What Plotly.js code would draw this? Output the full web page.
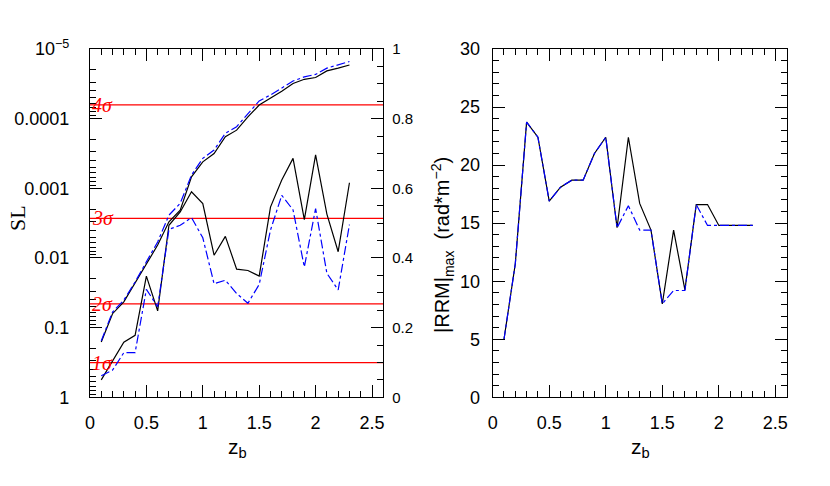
<!DOCTYPE html>
<html lang="en">
<head>
    <meta charset="UTF-8">
    <title>SL and |RRM|max vs z_b</title>
    <script src="https://cdn.plot.ly/plotly-3.0.1.min.js"></script>
    <style>
        body { margin: 0; background: #fff; }
        #chart { width: 830px; height: 486px; }
    </style>
</head>
<body>
    <div id="chart"></div>
    <script>
        // redshift bins
        const zb = [0.1, 0.2, 0.3, 0.4, 0.5, 0.6, 0.7, 0.8, 0.9, 1.0, 1.1, 1.2,
                    1.3, 1.4, 1.5, 1.6, 1.7, 1.8, 1.9, 2.0, 2.1, 2.2, 2.3];

        // significance level (left, log axis), given as -log10(SL)
        const slBlackDec = [0.25, 0.51, 0.79, 0.89, 1.74, 1.24, 2.47, 2.66, 2.95, 2.78, 2.04, 2.31,
                            1.84, 1.82, 1.74, 2.73, 3.12, 3.43, 2.55, 3.48, 2.63, 2.09, 3.08];
        const slBlueDec = [0.31, 0.39, 0.64, 0.64, 1.55, 1.30, 2.41, 2.47, 2.58, 2.29, 1.63, 1.68,
                           1.49, 1.35, 1.62, 2.40, 2.90, 2.69, 1.87, 2.71, 1.78, 1.54, 2.48];

        // cumulative curves (right axis, 0..1)
        const cumBlack = [0.159, 0.240, 0.274, 0.327, 0.384, 0.437, 0.504, 0.537, 0.633, 0.676, 0.700, 0.748,
                          0.767, 0.805, 0.839, 0.858, 0.879, 0.901, 0.913, 0.918, 0.937, 0.945, 0.954];
        const cumBlue = [0.162, 0.245, 0.279, 0.331, 0.389, 0.446, 0.523, 0.557, 0.638, 0.686, 0.710, 0.758,
                         0.777, 0.815, 0.851, 0.868, 0.889, 0.908, 0.920, 0.927, 0.945, 0.954, 0.964];

        // |RRM|max (rad m^-2)
        const rrmBlack = [5.0, 11.5, 23.7, 22.4, 16.9, 18.1, 18.7, 18.7, 21.0, 22.4, 14.6, 22.4,
                          16.7, 14.4, 8.05, 14.4, 9.25, 16.6, 16.6, 14.8, 14.8, 14.8, 14.8];
        const rrmBlue = [5.0, 11.5, 23.7, 22.4, 16.9, 18.1, 18.7, 18.7, 21.0, 22.4, 14.6, 16.5,
                         14.4, 14.4, 8.05, 9.2, 9.2, 16.6, 14.8, 14.8, 14.8, 14.8, 14.8];

        // sigma levels
        const sigmaSL = [0.3173, 0.0455, 0.0027, 0.0000633];
        const sigmaLabels = ["1σ", "2σ", "3σ", "4σ"];

        const xRange = [0, 2.6];
        const slTickVals = [1, 0.1, 0.01, 0.001, 0.0001, 0.00001];
        const slTickText = ["1", "0.1", "0.01", "0.001", "0.0001", "10<sup>−5</sup>"];

        const slBlack = slBlackDec.map(d => Math.pow(10, -d));
        const slBlue = slBlueDec.map(d => Math.pow(10, -d));

        const minorLog = [];
        for (let e = 0; e < 5; e++) {
            for (let k = 2; k <= 9; k++) minorLog.push(k * Math.pow(10, -e - 1));
        }

        const traces = [];
        sigmaSL.forEach(s => {
            traces.push({
                x: xRange, y: [s, s], xaxis: "x", yaxis: "y",
                mode: "lines", line: { color: "#ff0000", width: 1.3 },
                hoverinfo: "skip"
            });
        });
        traces.push(
            { x: zb, y: cumBlack, xaxis: "x", yaxis: "y2", mode: "lines", line: { color: "#000", width: 1.2 } },
            { x: zb, y: cumBlue, xaxis: "x", yaxis: "y2", mode: "lines", line: { color: "#0000ff", width: 1.2, dash: "dashdot" } },
            { x: zb, y: slBlack, xaxis: "x", yaxis: "y", mode: "lines", line: { color: "#000", width: 1.2 } },
            { x: zb, y: slBlue, xaxis: "x", yaxis: "y", mode: "lines", line: { color: "#0000ff", width: 1.2, dash: "dashdot" } },
            { x: zb, y: rrmBlack, xaxis: "x2", yaxis: "y3", mode: "lines", line: { color: "#000", width: 1.2 } },
            { x: zb, y: rrmBlue, xaxis: "x2", yaxis: "y3", mode: "lines", line: { color: "#0000ff", width: 1.2, dash: "dashdot" } }
        );

        const tickFont = { family: "Liberation Sans, Arial, sans-serif", size: 18, color: "#000" };
        const yDom = [0.1825, 0.8992];

        const xCommon = {
            range: xRange, dtick: 0.5, tick0: 0,
            ticks: "inside", ticklen: 12, tickwidth: 1, tickcolor: "#000",
            showline: true, linecolor: "#000", linewidth: 1, mirror: "ticks",
            showgrid: false, zeroline: false, tickfont: tickFont,
            ticklabelstandoff: 9,
            minor: { dtick: 0.1, tick0: 0, ticks: "inside", ticklen: 6, tickcolor: "#000", showgrid: false }
        };

        const layout = {
            width: 830, height: 486,
            margin: { l: 0, r: 0, t: 0, b: 0 },
            paper_bgcolor: "#fff", plot_bgcolor: "#fff",
            showlegend: false,
            xaxis: Object.assign({}, xCommon, { domain: [0.1084, 0.4618], anchor: "y" }),
            yaxis: {
                domain: yDom, anchor: "x", type: "log", range: [0, -5],
                tickmode: "array", tickvals: slTickVals, ticktext: slTickText,
                ticks: "inside", ticklen: 12, tickcolor: "#000",
                showline: true, linecolor: "#000", linewidth: 1,
                showgrid: false, zeroline: false, tickfont: tickFont,
                ticklabelstandoff: 16,
                minor: { tickmode: "array", tickvals: minorLog, ticks: "inside", ticklen: 6, tickcolor: "#000", showgrid: false }
            },
            yaxis2: {
                overlaying: "y", side: "right", anchor: "x", range: [0, 1],
                dtick: 0.2, tick0: 0, ticks: "inside", ticklen: 12, tickcolor: "#000",
                showline: true, linecolor: "#000", linewidth: 1,
                showgrid: false, zeroline: false,
                tickfont: { family: "Liberation Sans, Arial, sans-serif", size: 15, color: "#000" },
                ticklabelstandoff: 5,
                minor: { dtick: 0.05, tick0: 0, ticks: "inside", ticklen: 6, tickcolor: "#000", showgrid: false }
            },
            xaxis2: Object.assign({}, xCommon, { domain: [0.5936, 0.9478], anchor: "y3" }),
            yaxis3: {
                domain: yDom, anchor: "x2", range: [0, 30],
                dtick: 5, tick0: 0, ticks: "inside", ticklen: 12, tickcolor: "#000",
                showline: true, linecolor: "#000", linewidth: 1, mirror: "ticks",
                showgrid: false, zeroline: false, tickfont: tickFont,
                ticklabelstandoff: 8,
                minor: { dtick: 1, tick0: 0, ticks: "inside", ticklen: 6, tickcolor: "#000", showgrid: false }
            },
            annotations: []
        };

        sigmaSL.forEach((s, i) => {
            layout.annotations.push({
                xref: "x", yref: "y", x: 0, y: Math.log10(s),
                xanchor: "left", yanchor: "middle", showarrow: false,
                text: sigmaLabels[i],
                font: { family: "Liberation Serif, serif", size: 20, color: "#ff0000", style: "italic" }
            });
        });

        layout.annotations.push(
            {
                xref: "paper", yref: "paper", x: 17 / 830, y: 1 - 218 / 486,
                xanchor: "center", yanchor: "middle", showarrow: false, textangle: -90,
                text: "SL",
                font: { family: "Liberation Serif, serif", size: 22, color: "#000" }
            },
            {
                xref: "paper", yref: "paper", x: 442 / 830, y: 1 - 245 / 486,
                xanchor: "center", yanchor: "middle", showarrow: false, textangle: -90,
                text: "|RRM|<sub>max</sub>  (rad*m<sup>−2</sup>)",
                font: { family: "Liberation Sans, Arial, sans-serif", size: 20, color: "#000" }
            },
            {
                xref: "paper", yref: "paper", x: 237 / 830, y: 1 - 448 / 486,
                xanchor: "center", yanchor: "middle", showarrow: false,
                text: "z<sub>b</sub>",
                font: { family: "Liberation Sans, Arial, sans-serif", size: 21, color: "#000" }
            },
            {
                xref: "paper", yref: "paper", x: 640 / 830, y: 1 - 448 / 486,
                xanchor: "center", yanchor: "middle", showarrow: false,
                text: "z<sub>b</sub>",
                font: { family: "Liberation Sans, Arial, sans-serif", size: 21, color: "#000" }
            }
        );

        Plotly.newPlot("chart", traces, layout, { staticPlot: true });
    </script>
</body>
</html>
